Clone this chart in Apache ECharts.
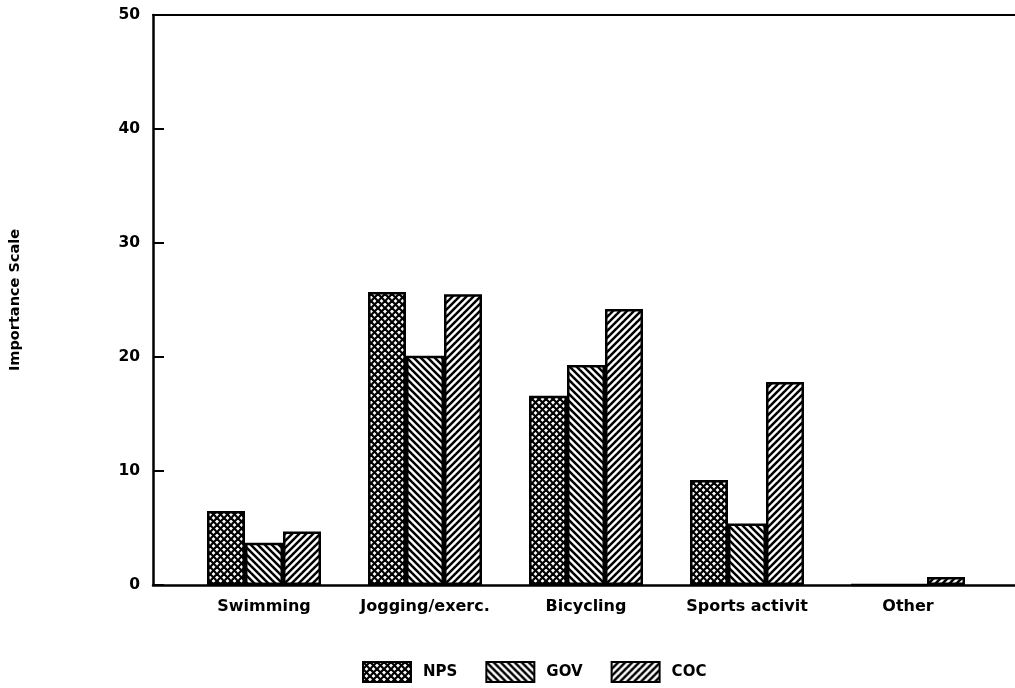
<!DOCTYPE html>
<html>
<head>
<meta charset="utf-8">
<script src="https://cdn.jsdelivr.net/npm/echarts@6/dist/echarts.min.js"></script>
<style>
html,body{margin:0;padding:0;background:#fff;}
#chart{width:1015px;height:688px;}
</style>
</head>
<body>
<div id="chart"></div>
<script>
// ---- data ----
var categories = ['Swimming', 'Jogging/exerc.', 'Bicycling', 'Sports activit', 'Other'];
var seriesNames = ['NPS', 'GOV', 'COC'];
var npsValues = [6.5, 25.7, 16.6, 9.2, 0];
var govValues = [3.7, 20.1, 19.3, 5.4, 0];
var cocValues = [4.7, 25.5, 24.2, 17.8, 0.7];
var yTicks = [0, 10, 20, 30, 40, 50];

// ---- patterns ----
function makeTile(size, draw) {
  var c = document.createElement('canvas');
  c.width = size; c.height = size;
  var ctx = c.getContext('2d');
  ctx.fillStyle = '#fff';
  ctx.fillRect(0, 0, size, size);
  ctx.strokeStyle = '#000';
  draw(ctx, size);
  return { image: c, repeat: 'repeat' };
}
function back(ctx, s) { // "\" lines
  for (var k = -1; k <= 1; k++) {
    ctx.beginPath();
    ctx.moveTo(k * s - 1, -1);
    ctx.lineTo(k * s + s + 1, s + 1);
    ctx.stroke();
  }
}
function fwd(ctx, s) { // "/" lines
  for (var k = -1; k <= 1; k++) {
    ctx.beginPath();
    ctx.moveTo(k * s - 1, s + 1);
    ctx.lineTo(k * s + s + 1, -1);
    ctx.stroke();
  }
}
var patNPS = makeTile(7, function (ctx, s) { ctx.lineWidth = 2.2; back(ctx, s); fwd(ctx, s); });
var patGOV = makeTile(7, function (ctx, s) { ctx.lineWidth = 2.5; back(ctx, s); });
var patCOC = makeTile(7, function (ctx, s) { ctx.lineWidth = 2.5; fwd(ctx, s); });
var patterns = [patNPS, patGOV, patCOC];
var values = [npsValues, govValues, cocValues];

var FONT = 'DejaVu Sans';
var chart = echarts.init(document.getElementById('chart'), null, { renderer: 'canvas' });

var series = seriesNames.map(function (name, i) {
  return {
    name: name,
    type: 'bar',
    xAxisIndex: 2,
    yAxisIndex: 1,
    data: values[i],
    barWidth: 38,
    barGap: '0%',
    itemStyle: { color: patterns[i], borderColor: '#000', borderWidth: 2.5 },
    emphasis: { disabled: true },
    animation: false
  };
});

chart.setOption({
  backgroundColor: '#fff',
  animation: false,
  grid: [
    { left: 153, right: 0, top: 15, bottom: 103 },
    { left: 183.5, right: 26.5, top: 15, bottom: 103 }
  ],
  xAxis: [
    { type: 'value', gridIndex: 0, min: 0, max: 1, position: 'bottom',
      axisLine: { show: true, lineStyle: { color: '#000', width: 2.5 } },
      axisTick: { show: false }, axisLabel: { show: false }, splitLine: { show: false } },
    { type: 'value', gridIndex: 0, min: 0, max: 1, position: 'top',
      axisLine: { show: true, lineStyle: { color: '#000', width: 2 } },
      axisTick: { show: false }, axisLabel: { show: false }, splitLine: { show: false } },
    { type: 'category', gridIndex: 1, data: categories, position: 'bottom',
      axisLine: { show: false }, axisTick: { show: false },
      axisLabel: { interval: 0, color: '#000', fontFamily: FONT, fontWeight: 'bold', fontSize: 16, margin: 14 } }
  ],
  yAxis: [
    { type: 'value', gridIndex: 0, min: yTicks[0], max: yTicks[yTicks.length - 1], interval: 10,
      name: 'Importance Scale', nameLocation: 'middle', nameGap: 130, nameRotate: 90,
      nameTextStyle: { color: '#000', fontFamily: FONT, fontWeight: 'bold', fontSize: 14.5 },
      axisLine: { show: true, lineStyle: { color: '#000', width: 2.5 } },
      axisTick: { show: true, inside: true, length: 11, lineStyle: { color: '#000', width: 2 } },
      axisLabel: { color: '#000', fontFamily: FONT, fontWeight: 'bold', fontSize: 15.5, margin: 13 },
      splitLine: { show: false } },
    { type: 'value', gridIndex: 1, min: yTicks[0], max: yTicks[yTicks.length - 1], interval: 10, show: false }
  ],
  legend: {
    data: seriesNames,
    left: 357,
    top: 656,
    icon: 'rect',
    itemWidth: 48,
    itemHeight: 20,
    itemGap: 28,
    selectedMode: false,
    textStyle: { color: '#000', fontFamily: FONT, fontWeight: 'bold', fontSize: 15, padding: [0, 0, 0, 7] }
  },
  series: series
});
</script>
</body>
</html>
